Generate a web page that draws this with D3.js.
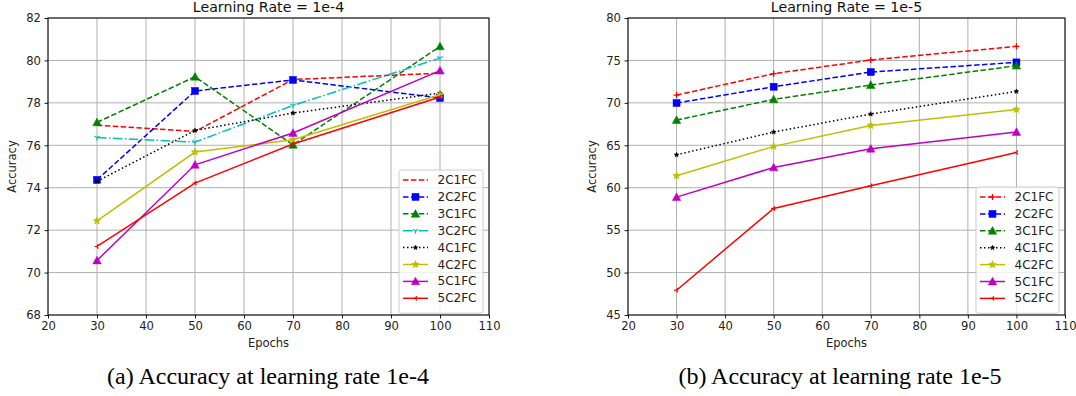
<!DOCTYPE html>
<html>
<head>
<meta charset="utf-8">
<script src="https://cdn.jsdelivr.net/npm/d3@7"></script>
<style>
  html, body { margin: 0; padding: 0; background: #fff; }
  svg { display: block; }
</style>
</head>
<body>
<svg id="chart" width="1076" height="396"></svg>
<script>
// ---------------- DATA ----------------
const epochs = [30, 50, 70, 100];
const xTicks = [20, 30, 40, 50, 60, 70, 80, 90, 100, 110];
const yTicksA = [68, 70, 72, 74, 76, 78, 80, 82];
const yTicksB = [45, 50, 55, 60, 65, 70, 75, 80];

const seriesA = ["2C1FC", "2C2FC", "3C1FC", "3C2FC", "4C1FC", "4C2FC", "5C1FC", "5C2FC"];
const seriesB = ["2C1FC", "2C2FC", "3C1FC", "4C1FC", "4C2FC", "5C1FC", "5C2FC"];

// Learning rate 1e-4
const lr4_2C1FC = [76.95, 76.65, 79.10, 79.40];
const lr4_2C2FC = [74.37, 78.56, 79.08, 78.23];
const lr4_3C1FC = [77.08, 79.23, 76.02, 80.66];
const lr4_3C2FC = [76.37, 76.15, 77.88, 80.11];
const lr4_4C1FC = [74.30, 76.70, 77.52, 78.46];
const lr4_4C2FC = [72.44, 75.68, 76.26, 78.38];
const lr4_5C1FC = [70.57, 75.08, 76.58, 79.52];
const lr4_5C2FC = [71.23, 74.22, 76.06, 78.28];

// Learning rate 1e-5
const lr5_2C1FC = [70.92, 73.44, 75.05, 76.66];
const lr5_2C2FC = [69.98, 71.90, 73.63, 74.77];
const lr5_3C1FC = [67.97, 70.41, 72.10, 74.38];
const lr5_4C1FC = [63.88, 66.56, 68.68, 71.35];
const lr5_4C2FC = [61.41, 64.87, 67.34, 69.23];
const lr5_5C1FC = [58.89, 62.39, 64.59, 66.56];
const lr5_5C2FC = [47.92, 57.56, 60.23, 64.16];

const valuesA = [lr4_2C1FC, lr4_2C2FC, lr4_3C1FC, lr4_3C2FC, lr4_4C1FC, lr4_4C2FC, lr4_5C1FC, lr4_5C2FC];
const valuesB = [lr5_2C1FC, lr5_2C2FC, lr5_3C1FC, lr5_4C1FC, lr5_4C2FC, lr5_5C1FC, lr5_5C2FC];

const titleA = "Learning Rate = 1e-4";
const titleB = "Learning Rate = 1e-5";
const captionA = "(a) Accuracy at learning rate 1e-4";
const captionB = "(b) Accuracy at learning rate 1e-5";
const xLabel = "Epochs";
const yLabel = "Accuracy";

// ---------------- STYLES ----------------
const DASH = "5.5,2.4", DOT = "1.5,2.5", DASHDOT = "9.6,2.4,1.5,2.4";
const styleOf = {
  "2C1FC": {color: "#ff0000", dash: DASH, marker: "plus", size: 6},
  "2C2FC": {color: "#0000ff", dash: DASH, marker: "square", size: 7},
  "3C1FC": {color: "#008000", dash: DASH, marker: "triangle", size: 8.5},
  "3C2FC": {color: "#00bfbf", dash: DASHDOT, marker: "tridown", size: 6},
  "4C1FC": {color: "#000000", dash: DOT, marker: "smallstar", size: 5},
  "4C2FC": {color: "#bfbf00", dash: null, marker: "star", size: 8},
  "5C1FC": {color: "#bf00bf", dash: null, marker: "triangle", size: 8.5},
  "5C2FC": {color: "#ff0000", dash: null, marker: "trileft", size: 5}
};

const svg = d3.select("#chart");

function drawMarker(g, type, cx, cy, size, color) {
  const s = size / 2;
  if (type === "none") return;
  if (type === "square") {
    g.append("rect").attr("x", cx - s).attr("y", cy - s).attr("width", size).attr("height", size)
      .attr("fill", color).attr("stroke", color).attr("stroke-width", 0.5);
  } else if (type === "triangle") {
    g.append("path").attr("d", `M${cx},${cy - s}L${cx + s},${cy + s * 0.8}L${cx - s},${cy + s * 0.8}Z`)
      .attr("fill", color).attr("stroke", color).attr("stroke-width", 0.5);
  } else if (type === "star" || type === "smallstar") {
    const pts = [];
    for (let i = 0; i < 10; i++) {
      const r = i % 2 === 0 ? s : s * 0.45;
      const a = -Math.PI / 2 + i * Math.PI / 5;
      pts.push([cx + r * Math.cos(a), cy + r * Math.sin(a)]);
    }
    g.append("path").attr("d", "M" + pts.map(p => p.join(",")).join("L") + "Z")
      .attr("fill", color).attr("stroke", color).attr("stroke-width", 0.5);
  } else if (type === "plus") {
    g.append("path").attr("d", `M${cx - s},${cy}H${cx + s}M${cx},${cy - s}V${cy + s}`)
      .attr("stroke", color).attr("stroke-width", 1.3).attr("fill", "none");
  } else if (type === "tridown") {
    const d = [270, 30, 150].map(a => {
      const r = a * Math.PI / 180;
      return `M${cx},${cy}L${cx + s * Math.cos(r)},${cy - s * Math.sin(r)}`;
    }).join("");
    g.append("path").attr("d", d).attr("stroke", color).attr("stroke-width", 1.2).attr("fill", "none");
  } else if (type === "trileft") {
    const d = [180, 60, 300].map(a => {
      const r = a * Math.PI / 180;
      return `M${cx},${cy}L${cx + s * Math.cos(r)},${cy - s * Math.sin(r)}`;
    }).join("");
    g.append("path").attr("d", d).attr("stroke", color).attr("stroke-width", 1.2).attr("fill", "none");
  }
}

function panel(cfg) {
  const {left, right, top, bottom, yDomain, yTicks, names, values, title, caption, captionX, noMarker, legend} = cfg;
  const x = d3.scaleLinear().domain([20, 110]).range([left, right]);
  const y = d3.scaleLinear().domain(yDomain).range([bottom, top]);
  const g = svg.append("g");

  // grid
  g.append("g").selectAll("line").data(xTicks).join("line")
    .attr("x1", d => x(d)).attr("x2", d => x(d)).attr("y1", top).attr("y2", bottom)
    .attr("stroke", "#b0b0b0").attr("stroke-width", 1);
  g.append("g").selectAll("line").data(yTicks).join("line")
    .attr("y1", d => y(d)).attr("y2", d => y(d)).attr("x1", left).attr("x2", right)
    .attr("stroke", "#b0b0b0").attr("stroke-width", 1);

  // axes
  const xAxis = d3.axisBottom(x).tickValues(xTicks).tickSize(3.5).tickPadding(3.5).tickFormat(d3.format("d"));
  const yAxis = d3.axisLeft(y).tickValues(yTicks).tickSize(3.5).tickPadding(3.5).tickFormat(d3.format("d"));
  const gx = g.append("g").attr("transform", `translate(0,${bottom})`).call(xAxis);
  const gy = g.append("g").attr("transform", `translate(${left},0)`).call(yAxis);
  [gx, gy].forEach(a => {
    a.select(".domain").remove();
    a.selectAll(".tick line").attr("stroke", "#000").attr("stroke-width", 0.9);
    a.selectAll(".tick text").attr("font-size", 11.6).attr("fill", "#222")
      .attr("font-family", "DejaVu Sans, sans-serif");
  });

  // lines and markers
  const line = d3.line().x((d, i) => x(epochs[i])).y(d => y(d));
  names.forEach((n, k) => {
    const st = styleOf[n];
    g.append("path").datum(values[k]).attr("d", line)
      .attr("fill", "none").attr("stroke", st.color).attr("stroke-width", 1.5)
      .attr("stroke-dasharray", st.dash);
    const mk = (noMarker && noMarker.includes(n)) ? "none" : st.marker;
    values[k].forEach((v, i) => drawMarker(g, mk, x(epochs[i]), y(v), st.size, st.color));
  });

  // frame
  g.append("rect").attr("x", left).attr("y", top).attr("width", right - left).attr("height", bottom - top)
    .attr("fill", "none").attr("stroke", "#000").attr("stroke-width", 1);

  // title & labels
  g.append("text").attr("x", (left + right) / 2).attr("y", 12).attr("text-anchor", "middle")
    .attr("font-family", "DejaVu Sans, sans-serif").attr("font-size", 14.2).attr("fill", "#111").text(title);
  g.append("text").attr("x", (left + right) / 2).attr("y", 347).attr("text-anchor", "middle")
    .attr("font-family", "DejaVu Sans, sans-serif").attr("font-size", 11.5).attr("fill", "#222").text(xLabel);
  g.append("text").attr("transform", `translate(${left - 36},${(top + bottom) / 2}) rotate(-90)`)
    .attr("text-anchor", "middle").attr("dominant-baseline", "central")
    .attr("font-family", "DejaVu Sans, sans-serif").attr("font-size", 11.5).attr("fill", "#222").text(yLabel);
  g.append("text").attr("x", captionX).attr("y", 384).attr("text-anchor", "middle")
    .attr("font-family", "Liberation Serif, Times New Roman, serif").attr("font-size", 24).attr("fill", "#000")
    .text(caption);

  // legend
  const rowH = 16.9;
  const lg = g.append("g");
  const lx = legend.x, ly = legend.y, lw = legend.w, lh = names.length * rowH + 8;
  lg.append("rect").attr("x", lx).attr("y", ly).attr("width", lw).attr("height", lh)
    .attr("rx", 2.5).attr("fill", "rgba(255,255,255,0.8)").attr("stroke", "#cccccc").attr("stroke-width", 1);
  names.forEach((n, k) => {
    const st = styleOf[n];
    const cy = ly + 10 + k * rowH;
    lg.append("line").attr("x1", lx + 4).attr("x2", lx + 29).attr("y1", cy).attr("y2", cy)
      .attr("stroke", st.color).attr("stroke-width", 1.5).attr("stroke-dasharray", st.dash);
    const mk = (noMarker && noMarker.includes(n)) ? "none" : st.marker;
    drawMarker(lg, mk, lx + 16.5, cy, st.size, st.color);
    lg.append("text").attr("x", lx + 38.5).attr("y", cy).attr("dominant-baseline", "central")
      .attr("font-family", "DejaVu Sans, sans-serif").attr("font-size", 12).attr("fill", "#222").text(n);
  });
}

panel({left: 48, right: 489, top: 18, bottom: 315, yDomain: [68, 82], yTicks: yTicksA,
  names: seriesA, values: valuesA, title: titleA, caption: captionA, captionX: 268,
  noMarker: ["2C1FC"], legend: {x: 399, y: 170, w: 84}});
panel({left: 628, right: 1065, top: 18, bottom: 315, yDomain: [45, 80], yTicks: yTicksB,
  names: seriesB, values: valuesB, title: titleB, caption: captionB, captionX: 840,
  noMarker: [], legend: {x: 976, y: 187, w: 83}});
</script>
</body>
</html>
